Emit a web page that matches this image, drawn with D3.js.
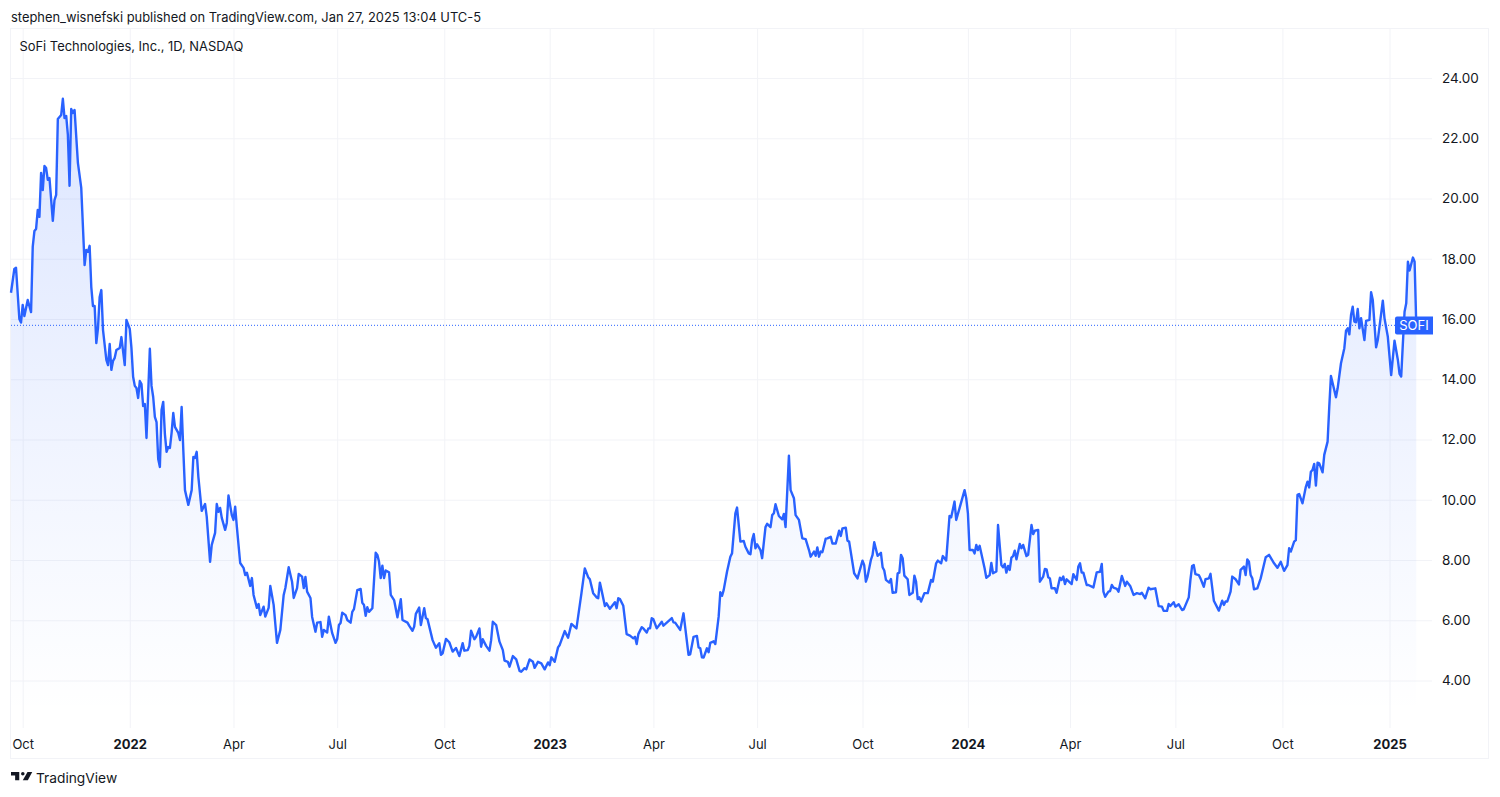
<!DOCTYPE html>
<html>
<head>
<meta charset="utf-8">
<script src="https://cdnjs.cloudflare.com/ajax/libs/d3/7.8.5/d3.min.js"></script>
<style>
  html, body { margin: 0; padding: 0; background: #fff; }
  svg { display: block; }
  text { font-family: Inter, "Liberation Sans", sans-serif; fill: #131722; }
</style>
</head>
<body>
<div id="chart"></div>
<script>
// [trading bar since 1 Oct 2021, close]
var closes = [
  [-7,16.87],[-5,17.66],[-4,17.70],[-2,16.00],[-1,15.88],[0,16.47],[1,16.10],[3,16.63],[5,16.23],[6,18.40],
  [7,18.92],[8,18.99],[9,19.62],[10,19.39],[11,20.85],[12,20.28],[13,21.08],[14,21.01],[15,20.62],[16,20.68],
  [18,19.26],[19,19.95],[20,20.12],[21,22.64],[23,22.77],[24,23.31],[25,22.67],[26,22.74],[27,22.11],[28,20.42],
  [29,22.97],[30,22.84],[31,22.94],[33,21.18],[35,20.35],[37,17.79],[38,18.29],[39,18.23],[40,18.43],[41,17.06],
  [42,16.43],[43,16.43],[44,15.20],[45,15.70],[46,16.73],[47,16.96],[48,15.64],[50,14.64],[51,14.47],[52,15.17],
  [53,14.31],[54,14.61],[55,14.71],[56,14.97],[58,15.04],[59,15.40],[61,14.47],[62,15.97],[64,15.67],[65,15.04],
  [66,14.08],[67,13.78],[68,13.71],[69,13.38],[70,13.94],[71,13.84],[72,13.11],[73,13.18],[74,12.05],[76,15.01],
  [77,13.78],[78,13.41],[79,12.75],[80,12.58],[81,11.35],[82,11.09],[83,12.98],[84,13.25],[85,12.18],[86,11.59],
  [87,11.75],[88,11.72],[89,12.22],[90,12.88],[91,12.42],[93,12.22],[94,11.98],[95,13.08],[96,11.65],[97,10.32],
  [99,9.83],[101,10.32],[102,11.42],[103,11.39],[104,11.59],[105,10.76],[107,9.63],[109,9.86],[110,9.44],[112,7.94],
  [113,8.50],[115,8.90],[116,9.86],[117,9.60],[118,9.73],[119,9.40],[121,9.00],[122,9.23],[123,10.14],[125,9.49],
  [126,9.33],[127,9.77],[128,9.11],[130,7.90],[132,7.74],[133,7.50],[134,7.58],[136,7.14],[137,7.40],[138,6.84],
  [140,6.41],[141,6.54],[142,6.17],[144,6.45],[145,6.12],[147,6.41],[148,7.14],[150,6.51],[152,5.25],[154,5.68],
  [156,6.84],[157,7.07],[159,7.76],[161,7.28],[162,6.74],[164,7.07],[165,7.54],[167,7.45],[168,7.07],[169,7.44],
  [170,6.95],[172,6.74],[173,6.11],[175,5.62],[176,5.92],[178,5.94],[179,5.45],[180,5.68],[182,5.59],[183,6.12],
  [185,5.57],[187,5.25],[188,5.38],[189,5.84],[190,5.91],[191,6.25],[193,6.17],[194,6.01],[196,5.92],[197,6.28],
  [198,6.37],[200,7.00],[202,7.04],[203,6.58],[204,6.51],[205,6.15],[206,6.43],[207,6.28],[209,6.40],[211,8.24],
  [212,8.17],[213,7.94],[214,7.40],[215,7.81],[216,7.40],[217,7.65],[219,7.59],[220,6.84],[222,6.67],[224,6.10],
  [226,6.70],[227,6.01],[230,5.92],[231,5.82],[233,5.65],[234,5.79],[235,6.21],[237,6.42],[238,5.84],[240,6.40],
  [241,6.07],[242,6.03],[245,5.34],[247,5.09],[249,5.24],[250,4.85],[251,4.90],[253,5.38],[255,5.27],[257,4.96],
  [259,5.08],[261,4.81],[263,5.24],[264,4.99],[266,5.01],[267,5.15],[268,5.65],[270,5.37],[271,5.45],[273,5.73],
  [274,5.12],[275,5.37],[277,5.15],[279,4.99],[280,5.34],[281,5.95],[283,5.84],[285,5.29],[287,5.01],[288,4.66],
  [290,4.62],[291,4.46],[293,4.81],[295,4.70],[297,4.32],[298,4.29],[300,4.41],[301,4.37],[303,4.70],[305,4.62],
  [306,4.42],[308,4.62],[310,4.57],[312,4.37],[314,4.60],[315,4.51],[316,4.77],[318,4.62],[320,5.10],[321,5.18],
  [324,5.64],[326,5.42],[328,5.88],[331,5.73],[334,6.90],[336,7.72],[338,7.43],[339,7.36],[341,6.90],[343,6.76],
  [344,6.73],[345,7.25],[346,7.00],[348,6.47],[349,6.56],[351,6.38],[354,6.60],[355,6.40],[356,6.73],[357,6.70],
  [359,6.48],[361,5.54],[363,5.49],[365,5.40],[366,5.45],[367,5.21],[368,5.54],[370,5.77],[371,5.73],[373,5.59],
  [374,5.73],[375,5.73],[376,6.07],[377,6.03],[379,5.73],[382,5.95],[383,5.82],[388,6.07],[389,5.93],[390,5.92],
  [393,5.68],[395,6.23],[398,4.85],[399,4.87],[401,5.45],[403,5.48],[404,5.10],[405,5.07],[406,4.77],[407,4.76],
  [409,5.07],[410,4.94],[411,5.25],[413,5.30],[414,5.21],[416,6.12],[417,6.93],[418,6.81],[419,7.00],[421,7.61],
  [423,8.11],[424,8.22],[426,9.55],[427,9.74],[429,8.61],[431,8.63],[432,8.44],[434,8.22],[435,8.19],[436,8.66],
  [437,8.86],[438,8.39],[439,8.52],[441,8.33],[442,8.06],[444,9.09],[445,9.20],[447,9.09],[448,9.49],[449,9.55],
  [450,9.85],[452,9.46],[454,9.35],[455,9.53],[456,9.09],[458,11.46],[459,10.32],[461,10.05],[462,9.49],[464,9.33],
  [466,8.72],[468,8.69],[470,8.33],[471,8.11],[473,8.28],[474,8.14],[475,8.42],[476,8.11],[477,8.28],[478,8.26],
  [480,8.71],[481,8.72],[483,8.77],[484,8.55],[486,8.55],[488,8.97],[489,8.80],[490,9.05],[492,9.07],[493,8.64],
  [494,8.61],[497,7.56],[499,7.39],[502,7.98],[503,7.83],[504,7.28],[505,7.45],[507,8.00],[508,8.17],[509,8.59],
  [511,8.14],[513,8.24],[514,7.76],[515,7.65],[516,7.34],[518,7.25],[519,7.37],[520,6.91],[522,6.93],[523,7.56],
  [524,7.58],[525,8.17],[526,8.06],[527,7.48],[529,7.36],[530,6.84],[532,6.91],[533,7.48],[534,7.28],[535,6.70],
  [536,6.76],[537,6.62],[539,6.90],[541,6.90],[543,7.34],[544,7.28],[546,7.89],[547,7.98],[549,7.89],[550,8.13],
  [552,7.98],[554,9.46],[555,9.42],[557,9.94],[558,9.33],[560,9.72],[563,10.32],[564,10.05],[565,9.55],[566,8.33],
  [568,8.33],[569,8.22],[570,8.50],[571,8.33],[572,8.47],[575,7.72],[576,7.41],[578,7.50],[579,7.90],[580,7.56],
  [582,7.62],[583,9.16],[585,7.83],[586,7.76],[587,7.87],[588,7.58],[589,7.80],[590,7.67],[591,8.08],[592,8.13],
  [593,8.31],[594,8.02],[596,8.53],[597,8.39],[598,8.50],[600,8.13],[601,8.17],[603,9.16],[604,8.86],[605,8.97],
  [607,9.00],[608,7.28],[610,7.45],[611,7.70],[612,7.69],[613,7.43],[614,7.39],[615,7.06],[617,7.06],[618,6.91],
  [620,7.41],[621,7.34],[622,7.45],[623,7.20],[624,7.36],[627,7.20],[628,7.53],[630,7.34],[631,7.78],[632,7.89],
  [633,7.58],[634,7.58],[636,7.17],[637,7.17],[640,7.09],[642,7.59],[644,7.61],[645,7.87],[646,6.95],[647,6.78],
  [649,6.95],[650,6.97],[651,7.17],[652,7.08],[654,7.04],[655,6.95],[657,7.47],[659,7.14],[660,7.28],[662,7.14],
  [664,6.84],[666,6.90],[668,6.87],[669,6.91],[671,6.73],[673,7.08],[674,7.03],[677,7.06],[679,6.47],[681,6.45],
  [682,6.31],[684,6.31],[685,6.54],[686,6.47],[688,6.60],[689,6.45],[691,6.53],[693,6.34],[694,6.36],[697,6.76],
  [698,7.34],[699,7.80],[700,7.83],[701,7.53],[703,7.50],[704,7.39],[706,7.11],[707,7.36],[709,7.39],[710,7.54],
  [712,6.65],[715,6.32],[717,6.65],[718,6.51],[719,6.62],[720,6.62],[722,6.95],[723,7.45],[725,7.36],[727,7.19],
  [728,7.67],[730,7.78],[731,7.50],[732,8.02],[733,7.94],[734,7.50],[735,7.39],[736,7.03],[738,7.06],[740,7.39],
  [743,8.09],[745,8.17],[748,7.89],[750,7.74],[752,7.94],[754,7.64],[756,7.83],[757,8.39],[758,8.28],[760,8.61],
  [761,8.66],[762,10.16],[763,10.19],[765,9.88],[767,10.43],[768,10.60],[769,10.41],[770,10.93],[771,10.99],[772,11.19],
  [773,10.47],[774,11.23],[775,11.21],[777,10.91],[778,11.49],[780,11.93],[781,13.09],[782,14.11],[785,13.40],[786,13.70],
  [788,14.53],[790,15.03],[791,15.61],[792,15.69],[793,15.49],[794,16.13],[795,16.41],[796,15.91],[797,15.89],[798,16.33],
  [799,15.69],[800,16.03],[802,15.30],[803,15.94],[805,15.97],[806,16.89],[807,16.63],[809,15.06],[810,15.30],[813,16.61],
  [814,16.03],[816,15.41],[818,14.14],[820,15.28],[822,14.64],[823,14.18],[824,14.09],[825,15.20],[826,16.24],[827,16.52],
  [828,17.90],[829,17.61],[831,18.04],[832,17.90],[833,15.79]
]

var lastClose = 15.79
var symbol = "SOFI"

var priceTicks = [4, 6, 8, 10, 12, 14, 16, 18, 20, 22, 24]

var timeBars = [0, 64, 126, 188, 252, 315, 377, 439, 502, 565, 626, 689, 753, 817]
var timeLabels = ["Oct", "2022", "Apr", "Jul", "Oct", "2023", "Apr", "Jul", "Oct", "2024", "Apr", "Jul", "Oct", "2025"]

var headerText = "stephen_wisnefski published on TradingView.com, Jan 27, 2025 13:04 UTC-5"
var titleText = "SoFi Technologies, Inc., 1D, NASDAQ"

var width = 1500
var height = 797

var frameLeft = 11, frameTop = 29, frameRight = 1489, frameBottom = 759
var plotRight = 1432, plotBottom = 728

var gridColor = "#f2f3f7"
var lineColor = "#2962ff"

var x = d3.scaleLinear().domain([0, 817]).range([22.7, 1389.5])
var y = d3.scaleLinear().domain([4, 24]).range([680.5, 78])

var svg = d3.select("#chart")
  .append("svg")
  .attr("width", width)
  .attr("height", height)

svg.append("text")
  .attr("x", frameLeft)
  .attr("y", 21.5)
  .attr("font-size", 12.9)
  .text(headerText)

// outer frame
svg.append("rect")
  .attr("x", frameLeft - 0.5)
  .attr("y", frameTop - 0.5)
  .attr("width", frameRight - frameLeft)
  .attr("height", frameBottom - frameTop)
  .attr("fill", "none")
  .attr("stroke", gridColor)

// grid and labels come from the axes
var priceAxis = svg.append("g")
  .attr("transform", `translate(${plotRight},0)`)
  .call(d3.axisRight(y)
    .tickValues(priceTicks)
    .tickSize(-(plotRight - frameLeft))
    .tickPadding(10)
    .tickFormat(d3.format(".2f")))

priceAxis.select(".domain").remove()
priceAxis.selectAll("line").attr("stroke", gridColor)
priceAxis.selectAll("text")
  .attr("font-size", 13.5)
  .style("font-family", "Inter, sans-serif")
  .attr("fill", "#131722")

var timeAxis = svg.append("g")
  .attr("transform", `translate(0,${plotBottom})`)
  .call(d3.axisBottom(x)
    .tickValues(timeBars)
    .tickSize(-(plotBottom - frameTop))
    .tickPadding(12)
    .tickFormat(function(d, i) { return timeLabels[i] }))

timeAxis.select(".domain").remove()
timeAxis.selectAll("line").attr("stroke", gridColor)
timeAxis.selectAll("text")
  .attr("font-size", 13)
  .style("font-family", "Inter, sans-serif")
  .attr("font-weight", function(d, i) { return timeLabels[i].length == 4 ? 700 : 400 })
  .attr("fill", "#131722")

// area fade under the line
var gradient = svg.append("defs")
  .append("linearGradient")
  .attr("id", "fade")
  .attr("gradientUnits", "userSpaceOnUse")
  .attr("x1", 0).attr("x2", 0)
  .attr("y1", y(d3.max(closes, function(d) { return d[1] })))
  .attr("y2", plotBottom - 15)

gradient.append("stop").attr("offset", 0).attr("stop-color", lineColor).attr("stop-opacity", 0.16)
gradient.append("stop").attr("offset", 1).attr("stop-color", lineColor).attr("stop-opacity", 0)

var area = d3.area()
  .x(function(d) { return x(d[0]) })
  .y0(plotBottom)
  .y1(function(d) { return y(d[1]) })

var line = d3.line()
  .x(function(d) { return x(d[0]) })
  .y(function(d) { return y(d[1]) })

svg.append("path")
  .datum(closes)
  .attr("fill", "url(#fade)")
  .attr("d", area)

svg.append("path")
  .datum(closes)
  .attr("fill", "none")
  .attr("stroke", lineColor)
  .attr("stroke-width", 2.4)
  .attr("stroke-linejoin", "round")
  .attr("d", line)

// last price line and tag
svg.append("line")
  .attr("x1", frameLeft)
  .attr("x2", 1395)
  .attr("y1", y(lastClose))
  .attr("y2", y(lastClose))
  .attr("stroke", lineColor)
  .attr("stroke-width", 1)
  .attr("stroke-dasharray", "1 2")

svg.append("path")
  .attr("d", "M1433 316.5H1397a2 2 0 0 0-2 2V332.5a2 2 0 0 0 2 2H1433z")
  .attr("fill", lineColor)

svg.append("text")
  .attr("x", 1414)
  .attr("y", y(lastClose))
  .attr("dy", "0.35em")
  .attr("text-anchor", "middle")
  .attr("font-size", 13)
  .style("fill", "#fff")
  .text(symbol)

svg.append("text")
  .attr("x", 19.5)
  .attr("y", 50.5)
  .attr("font-size", 12.9)
  .text(titleText)

// TradingView mark
var logo = svg.append("g")
  .attr("transform", "translate(11,768.5) scale(0.59)")
  .attr("fill", "#131722")

logo.append("path").attr("d", "M14 6H0v6h7v8h7V6Z")
logo.append("path").attr("d", "M28 6h8l-7.5 14H20L28 6Z")
logo.append("circle").attr("cx", 20).attr("cy", 9).attr("r", 3)

svg.append("text")
  .attr("x", 36)
  .attr("y", 783)
  .attr("font-size", 13.75)
  .text("TradingView")
</script>
</body>
</html>
